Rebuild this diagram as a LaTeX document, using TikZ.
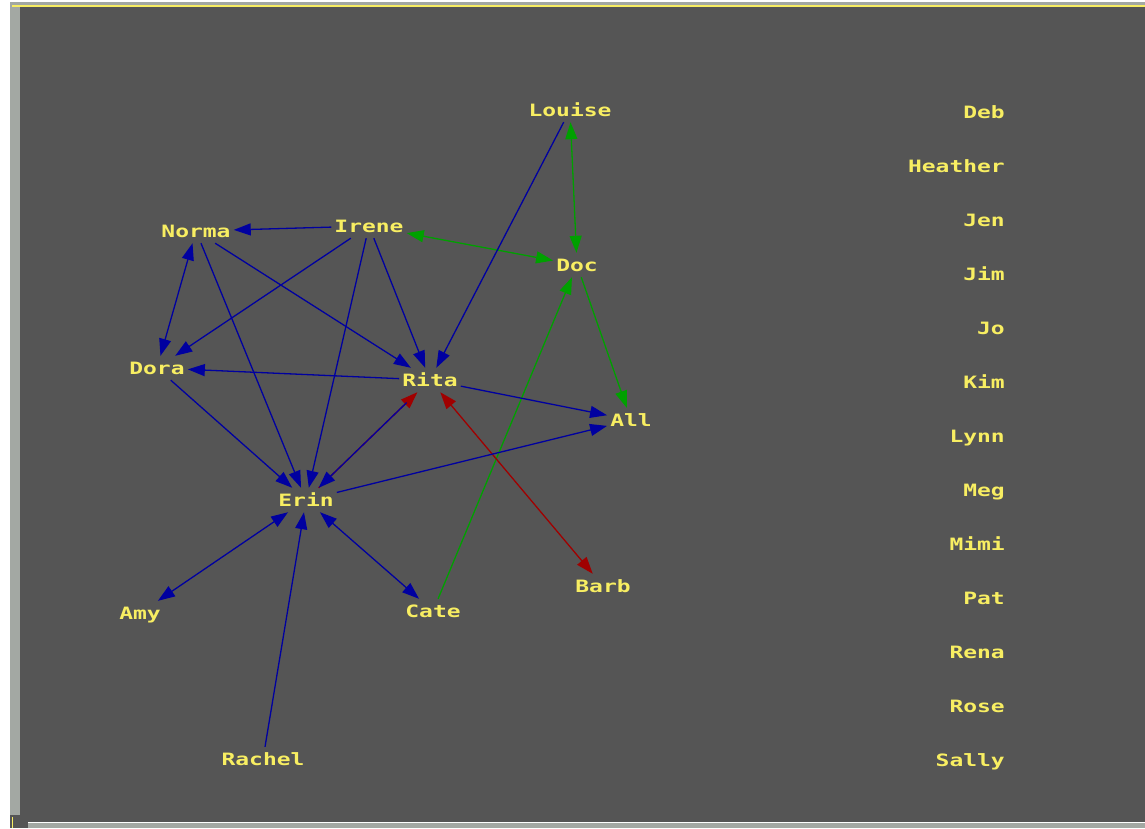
\documentclass[tikz,border=0pt]{standalone}
\usepackage{fontspec}
\newfontfamily\pixfont{DejaVu Sans Mono}[FakeStretch=1.35]
\usepackage{xcolor}
\definecolor{panel-bg}{HTML}{555555}
\definecolor{panel-frame}{HTML}{A3A8A3}
\definecolor{label-yellow}{HTML}{F8EE62}
\definecolor{link-blue}{HTML}{0000A0}
\definecolor{link-green}{HTML}{00A000}
\definecolor{link-red}{HTML}{A00000}
\usepackage{tikz}
\usetikzlibrary{arrows.meta}

\tikzset{
  person/.style={text=label-yellow, font=\pixfont\bfseries\fontsize{17}{17}\selectfont,
    text height=12pt, text depth=0pt, inner xsep=3pt, inner ysep=6pt},
  tip/.style={-{Triangle[length=17pt,width=12pt]}},
  bothtips/.style={{Triangle[length=17pt,width=12pt]}-{Triangle[length=17pt,width=12pt]}},
  blueline/.style={link-blue, line width=1.3pt},
  greenline/.style={link-green, line width=1.3pt},
  redline/.style={link-red, line width=1.3pt}
}

\begin{document}
\begin{tikzpicture}[x=1pt, y=-1pt]

    % Window
    \useasboundingbox (0,0) rectangle (1145,828);
    \fill[white] (0,0) rectangle (1145,828);
    \fill[panel-frame] (10,2) rectangle (1145,815);
    \fill[label-yellow] (12,5) rectangle (1145,7);
    \fill[panel-bg] (20,7) rectangle (1145,822);
    \fill[panel-bg] (10,815) rectangle (28,828);
    \fill[label-yellow] (11.5,817) rectangle (13,828);
    \fill[panel-frame] (28,823) rectangle (1145,828);

% People in the graph
\node[person] (louise) at (570,110) {Louise};
\node[person] (norma) at (196,231) {Norma};
\node[person] (irene) at (369,226) {Irene};
\node[person] (doc) at (577,265) {Doc};
\node[person] (dora) at (157,368) {Dora};
\node[person] (rita) at (430,380) {Rita};
\node[person] (all) at (631,420) {All};
\node[person] (erin) at (306,500) {Erin};
\node[person] (amy) at (140,613) {Amy};
\node[person] (cate) at (433,611) {Cate};
\node[person] (barb) at (603,586) {Barb};
\node[person] (rachel) at (263,759) {Rachel};

% People without links
\node[person, anchor=east] (deb) at (1008,112) {Deb};
\node[person, anchor=east] (heather) at (1008,166) {Heather};
\node[person, anchor=east] (jen) at (1008,220) {Jen};
\node[person, anchor=east] (jim) at (1008,274) {Jim};
\node[person, anchor=east] (jo) at (1008,328) {Jo};
\node[person, anchor=east] (kim) at (1008,382) {Kim};
\node[person, anchor=east] (lynn) at (1008,436) {Lynn};
\node[person, anchor=east] (meg) at (1008,490) {Meg};
\node[person, anchor=east] (mimi) at (1008,544) {Mimi};
\node[person, anchor=east] (pat) at (1008,598) {Pat};
\node[person, anchor=east] (rena) at (1008,652) {Rena};
\node[person, anchor=east] (rose) at (1008,706) {Rose};
\node[person, anchor=east] (sally) at (1008,760) {Sally};

% Green links
\draw[greenline, bothtips] (louise) -- (doc);
\draw[greenline, bothtips] (irene) -- (doc);
\draw[greenline, tip] (doc) -- (all);
\draw[greenline, tip] (cate) -- (doc);

% Red links
\draw[redline, bothtips] (rita) -- (barb);
\draw[redline, tip] (erin) -- (rita);

% Blue links
\draw[blueline, tip] (irene) -- (norma);
\draw[blueline, tip] (irene) -- (dora);
\draw[blueline, tip] (irene) -- (rita);
\draw[blueline, tip] (irene) -- (erin);
\draw[blueline, bothtips] (norma) -- (dora);
\draw[blueline, tip] (norma) -- (rita);
\draw[blueline, tip] (norma) -- (erin);
\draw[blueline, tip] (dora) -- (erin);
\draw[blueline, tip] (rita) -- (dora);
\draw[blueline, tip] (rita) -- (all);
\draw[blueline, tip] (louise) -- (rita);
\draw[blueline, tip, shorten <=15pt] (rita) -- (erin);
\draw[blueline, tip] (erin) -- (all);
\draw[blueline, bothtips] (erin) -- (amy);
\draw[blueline, bothtips] (erin) -- (cate);
\draw[blueline, tip] (rachel) -- (erin);

\end{tikzpicture}
\end{document}
